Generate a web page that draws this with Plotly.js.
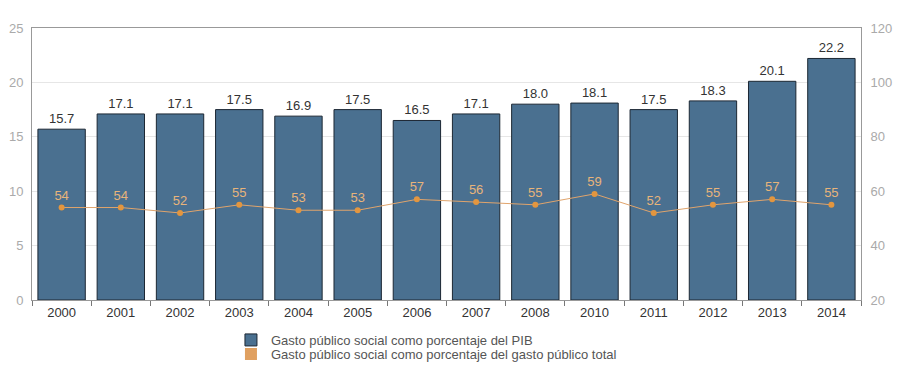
<!DOCTYPE html>
<html>
<head>
<meta charset="utf-8">
<script src="https://cdn.plot.ly/plotly-3.0.1.min.js"></script>
<style>html,body{margin:0;padding:0;background:#fff;}#chart{width:900px;height:367px;}</style>
</head>
<body>
<div id="chart"></div>
<script>
var years = ["2000","2001","2002","2003","2004","2005","2006","2007","2008","2010","2011","2012","2013","2014"];
var pibValues = [15.7, 17.1, 17.1, 17.5, 16.9, 17.5, 16.5, 17.1, 18.0, 18.1, 17.5, 18.3, 20.1, 22.2];
var totalValues = [54, 54, 52, 55, 53, 53, 57, 56, 55, 59, 52, 55, 57, 55];
var seriesNames = ["Gasto público social como porcentaje del PIB", "Gasto público social como porcentaje del gasto público total"];

var FONT = "Liberation Sans, Arial, sans-serif";
var barTrace = {
  type: "bar",
  x: years,
  y: pibValues,
  name: seriesNames[0],
  legend: "legend",
  marker: {color: "#4a7090", line: {color: "#1c2733", width: 1}},
  text: pibValues.map(function(v){return v.toFixed(1);}),
  textposition: "outside",
  textfont: {family: FONT, size: 13, color: "#333"},
  cliponaxis: false,
  hoverinfo: "none"
};
var lineTrace = {
  type: "scatter",
  mode: "lines+markers+text",
  x: years,
  y: totalValues,
  yaxis: "y2",
  name: seriesNames[1],
  showlegend: false,
  line: {color: "#e0a46c", width: 1},
  marker: {color: "#e3963f", size: 6},
  text: totalValues.map(String),
  textposition: "top center",
  textfont: {family: FONT, size: 13, color: "#e8b47a"},
  hoverinfo: "none"
};
// legend-only swatch for the line series (no data drawn)
var lineLegend = {
  type: "bar",
  x: [years[0]],
  y: [null],
  yaxis: "y2",
  name: seriesNames[1],
  legend: "legend2",
  marker: {color: "#e0a060", line: {color: "#e0a060", width: 0}},
  hoverinfo: "none"
};
var legendCommon = {xanchor: "left", yanchor: "middle", orientation: "v",
  font: {family: FONT, size: 13, color: "#555"}, bgcolor: "rgba(0,0,0,0)", itemwidth: 30};
var layout = {
  width: 900, height: 367,
  margin: {l: 32, r: 39, t: 28, b: 67, autoexpand: false},
  paper_bgcolor: "#fff", plot_bgcolor: "#fff",
  font: {family: FONT, size: 13, color: "#333"},
  bargap: 0.2,
  barmode: "overlay",
  showlegend: true,
  legend: Object.assign({x: 0.24, y: -0.147}, legendCommon),
  legend2: Object.assign({x: 0.24, y: -0.199}, legendCommon),
  xaxis: {
    type: "category", range: [-0.5, 13.5], autorange: false,
    showline: true, linecolor: "#999", linewidth: 1, mirror: true,
    ticks: "outside", tickson: "boundaries", ticklen: 5, tickcolor: "#777",
    tickfont: {size: 13, color: "#333"},
    showgrid: false, zeroline: false, fixedrange: true
  },
  yaxis: {
    range: [0, 25], dtick: 5, autorange: false,
    showline: true, linecolor: "#999", linewidth: 1,
    ticks: "", tickfont: {size: 13, color: "#aaa"},
    gridcolor: "#e6e6e6", zeroline: false, ticklabelstandoff: 5
  },
  yaxis2: {
    range: [20, 120], dtick: 20, autorange: false, overlaying: "y", side: "right",
    showline: true, linecolor: "#999", linewidth: 1,
    ticks: "", tickfont: {size: 13, color: "#aaa"},
    showgrid: false, zeroline: false, ticklabelstandoff: 6
  }
};
Plotly.newPlot("chart", [barTrace, lineTrace, lineLegend], layout, {displayModeBar: false, staticPlot: true});
</script>
</body>
</html>
